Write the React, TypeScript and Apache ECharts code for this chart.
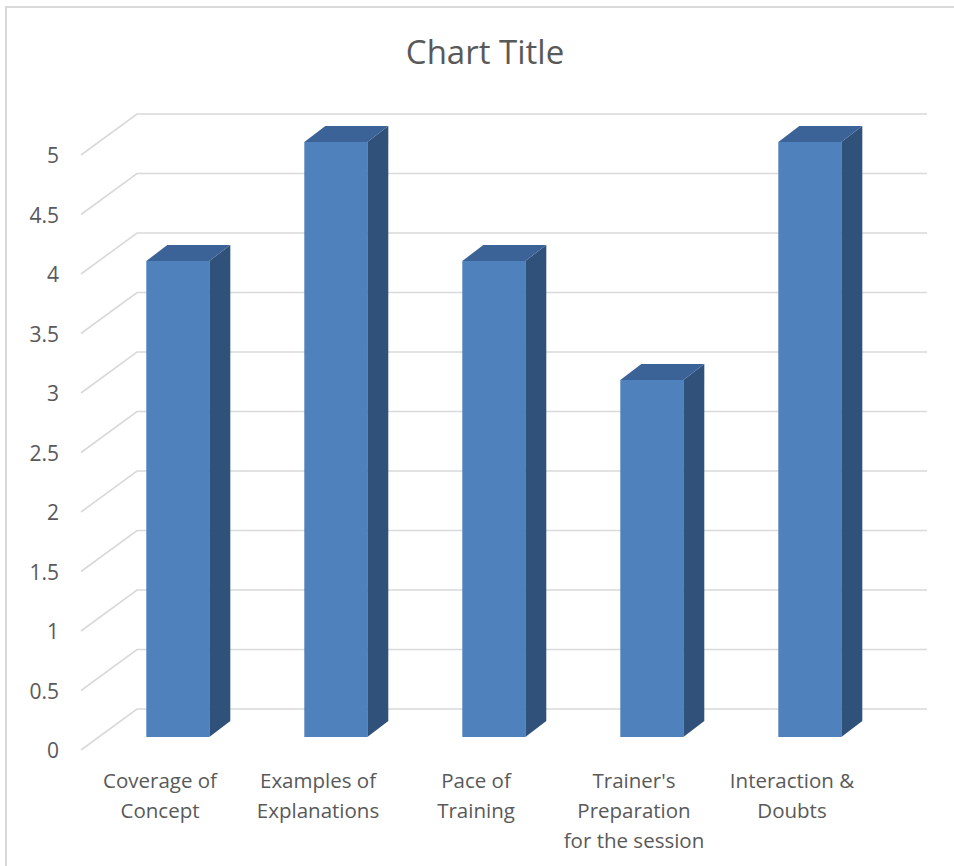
import React, { useEffect, useRef } from "react";
import * as echarts from "echarts";

const categories = [
  "Coverage of Concept",
  "Examples of Explanations",
  "Pace of Training",
  "Trainer's Preparation for the session",
  "Interaction & Doubts",
];
const categoryLines = [
  ["Coverage of", "Concept"],
  ["Examples of", "Explanations"],
  ["Pace of", "Training"],
  ["Trainer's", "Preparation", "for the session"],
  ["Interaction &", "Doubts"],
];
const values = [4, 5, 4, 3, 5];
const yTicks = [0, 0.5, 1, 1.5, 2, 2.5, 3, 3.5, 4, 4.5, 5];
const chartTitle = "Chart Title";

const FONT = "'Open Sans', sans-serif";
const TEXT = "#595959";
const GRID_COLOR = "#d9d9d9";
// perspective offsets
const FLOOR_DX = 56;
const FLOOR_DY = -41;
const BAR_PLANE_DX = 17.8;
const BAR_PLANE_DY = -13;
const BAR_DEPTH_DX = 21;
const BAR_DEPTH_DY = -16;
const BAR_W = 63;

export default function App() {
  const ref = useRef<HTMLDivElement>(null);
  useEffect(() => {
    if (!ref.current) return;
    const chart = echarts.init(ref.current, null, { renderer: "svg" });
    const option: any = {
      animation: false,
      backgroundColor: "#ffffff",
      textStyle: { fontFamily: FONT },
      grid: { left: 81, width: 790, top: 155, height: 595, containLabel: false },
      xAxis: {
        type: "category",
        data: categories,
        axisLine: { show: false },
        axisTick: { show: false },
        splitLine: { show: false },
        axisLabel: {
          interval: 0,
          margin: 15,
          color: TEXT,
          fontSize: 20.5,
          lineHeight: 30,
          fontFamily: FONT,
          formatter: (_v: string, i: number) => categoryLines[i].join("\n"),
        },
      },
      yAxis: {
        type: "value",
        min: 0,
        max: 5,
        interval: 0.5,
        axisLine: { show: false },
        axisTick: { show: false },
        splitLine: { show: false },
        axisLabel: { margin: 22, color: TEXT, fontSize: 21, fontFamily: FONT },
      },
      graphic: [
        {
          type: "rect",
          shape: { x: 6, y: 7, width: 980, height: 900 },
          style: { fill: "none", stroke: GRID_COLOR, lineWidth: 2 },
          silent: true,
        },
        {
          type: "text",
          x: 485,
          y: 51,
          style: {
            text: chartTitle,
            align: "center",
            verticalAlign: "middle",
            fontSize: 33,
            fontFamily: FONT,
            fill: TEXT,
          },
        },
      ],
      series: [
        {
          type: "custom",
          z: 1,
          silent: true,
          data: yTicks.map((t) => [0, t]),
          renderItem: (params: any, api: any) => {
            const cs = params.coordSys;
            const y = api.coord([0, api.value(1)])[1];
            const x0 = cs.x;
            return {
              type: "polyline",
              shape: {
                points: [
                  [x0, y],
                  [x0 + FLOOR_DX, y + FLOOR_DY],
                  [x0 + FLOOR_DX + cs.width, y + FLOOR_DY],
                ],
              },
              style: { stroke: GRID_COLOR, lineWidth: 1.6, fill: "none" },
            };
          },
        },
        {
          type: "custom",
          z: 2,
          data: values.map((v, i) => [i, v]),
          renderItem: (params: any, api: any) => {
            const i = api.value(0);
            const v = api.value(1);
            const base = api.coord([i, 0]);
            const topP = api.coord([i, v]);
            const cx = base[0] + BAR_PLANE_DX;
            const xl = cx - BAR_W / 2;
            const xr = cx + BAR_W / 2;
            const yb = base[1] + BAR_PLANE_DY;
            const yt = topP[1] + BAR_PLANE_DY;
            return {
              type: "group",
              children: [
                {
                  type: "polygon",
                  shape: {
                    points: [
                      [xr, yt],
                      [xr + BAR_DEPTH_DX, yt + BAR_DEPTH_DY],
                      [xr + BAR_DEPTH_DX, yb + BAR_DEPTH_DY],
                      [xr, yb],
                    ],
                  },
                  style: { fill: "#30517a" },
                },
                {
                  type: "polygon",
                  shape: {
                    points: [
                      [xl, yt],
                      [xl + BAR_DEPTH_DX, yt + BAR_DEPTH_DY],
                      [xr + BAR_DEPTH_DX, yt + BAR_DEPTH_DY],
                      [xr, yt],
                    ],
                  },
                  style: { fill: "#3b6398" },
                },
                {
                  type: "rect",
                  shape: { x: xl, y: yt, width: BAR_W, height: yb - yt },
                  style: { fill: "#4f81bd" },
                },
              ],
            };
          },
        },
      ],
    };
    chart.setOption(option);
    return () => chart.dispose();
  }, []);
  return (
    <div
      ref={ref}
      style={{ position: "absolute", left: 0, top: 0, width: 954, height: 866 }}
    />
  );
}
